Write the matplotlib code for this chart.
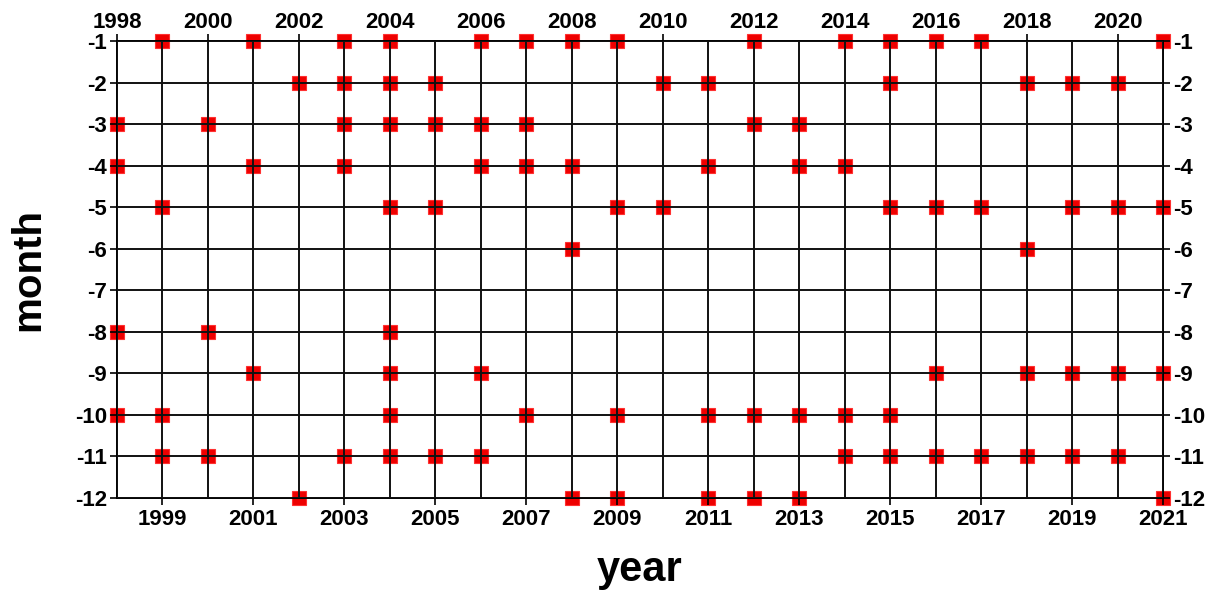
import matplotlib.pyplot as plt

plt.rcParams['font.family'] = ['Liberation Sans', 'DejaVu Sans']
plt.rcParams['font.weight'] = 'bold'
plt.rcParams['axes.unicode_minus'] = False

# years in which each month (shown as negative) has a marker
month_years = {
    -1: [1999, 2001, 2003, 2004, 2006, 2007, 2008, 2009, 2012, 2014, 2015, 2016, 2017, 2021],
    -2: [2002, 2003, 2004, 2005, 2010, 2011, 2015, 2018, 2019, 2020],
    -3: [1998, 2000, 2003, 2004, 2005, 2006, 2007, 2012, 2013],
    -4: [1998, 2001, 2003, 2006, 2007, 2008, 2011, 2013, 2014],
    -5: [1999, 2004, 2005, 2009, 2010, 2015, 2016, 2017, 2019, 2020, 2021],
    -6: [2008, 2018],
    -7: [],
    -8: [1998, 2000, 2004],
    -9: [2001, 2004, 2006, 2016, 2018, 2019, 2020, 2021],
    -10: [1998, 1999, 2004, 2007, 2009, 2011, 2012, 2013, 2014, 2015],
    -11: [1999, 2000, 2003, 2004, 2005, 2006, 2014, 2015, 2016, 2017, 2018, 2019, 2020],
    -12: [2002, 2008, 2009, 2011, 2012, 2013, 2021],
}

years = list(range(1998, 2022))
months = list(range(-1, -13, -1))
odd_years = [y for y in years if y % 2 == 1]
even_years = [y for y in years if y % 2 == 0]

xs, ys = [], []
for m, yrs in month_years.items():
    xs += yrs
    ys += [m] * len(yrs)

fig = plt.figure(figsize=(12.2, 5.96), dpi=100)
ax = fig.add_axes([0.0959, 0.1644, 0.8574, 0.7668])

ax.plot(xs, ys, "s", color="#ee0000", ms=10, mec="#ff3030", mew=0.8,
        clip_on=False, zorder=1)

ax.set_xlim(1998, 2021)
ax.set_ylim(-12, -1)

ax.set_xticks(odd_years)
ax.set_xticks(years, minor=True)
ax.set_yticks(months)
ax.grid(which="both", color="#111111", lw=1.4)
ax.set_axisbelow(False)
for s in ax.spines.values():
    s.set_linewidth(1.4)

ax.tick_params(axis="x", which="both", direction="out", length=5, width=1.2,
               labelsize=16, pad=3)
ax.tick_params(axis="x", which="minor", length=0)
ax.tick_params(axis="y", direction="out", length=5, width=1.2, labelsize=16,
               right=True, labelright=True, pad=2)

top = ax.secondary_xaxis("top")
top.set_xticks(even_years)
top.tick_params(direction="out", length=5, width=1.2, labelsize=16, pad=1)
top.spines["top"].set_visible(False)

ax.set_xlabel("year", fontsize=30, fontweight="bold", labelpad=14)
ax.set_ylabel("month", fontsize=29, fontweight="bold", labelpad=20)

fig.savefig("out.png", dpi=100)
